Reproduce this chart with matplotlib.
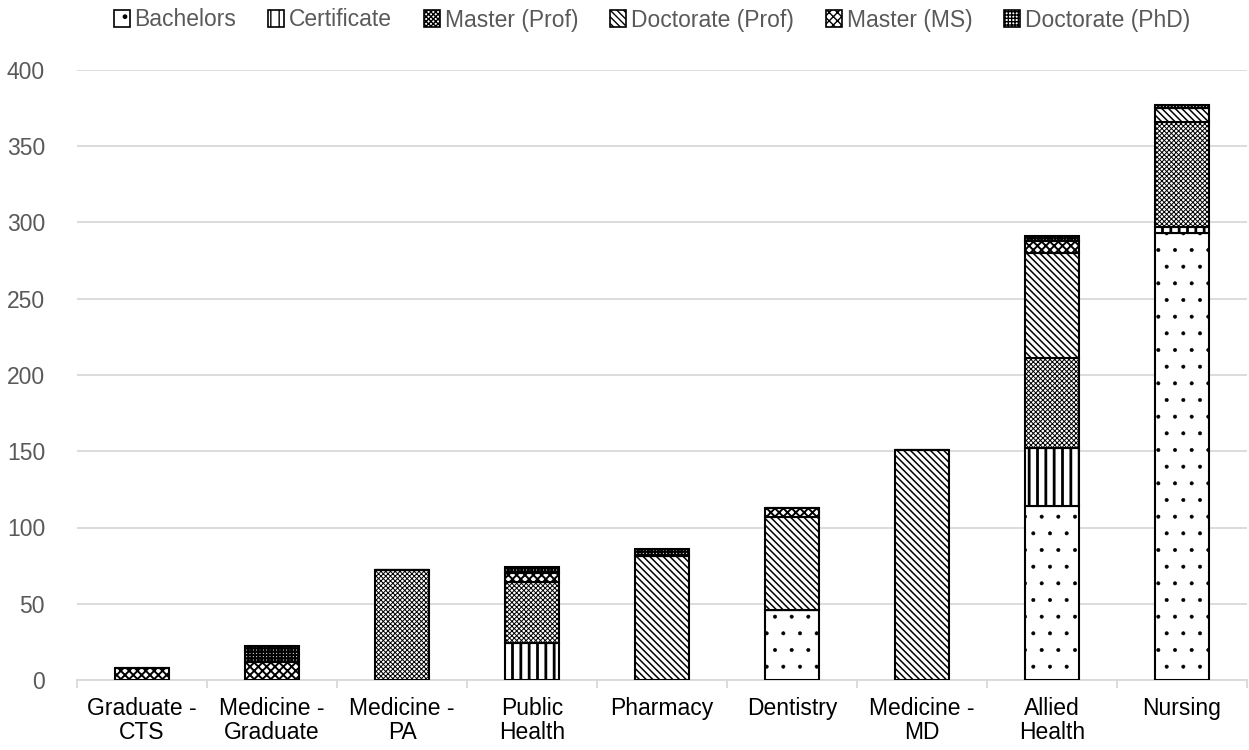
import matplotlib
matplotlib.use("Agg")
import matplotlib.pyplot as plt
import numpy as np
from matplotlib.patches import Patch

plt.rcParams['font.family'] = ['Liberation Sans', 'DejaVu Sans']

categories = ["Graduate -\nCTS", "Medicine -\nGraduate", "Medicine -\nPA", "Public\nHealth",
              "Pharmacy", "Dentistry", "Medicine -\nMD", "Allied\nHealth", "Nursing"]
series_names = ["Bachelors", "Certificate", "Master (Prof)", "Doctorate (Prof)",
                "Master (MS)", "Doctorate (PhD)"]
bachelors    = [0, 0, 0, 0, 0, 46, 0, 114, 293]
certificate  = [0, 0, 0, 24, 0, 0, 0, 38, 4]
master_prof  = [0, 0, 72, 40, 0, 0, 0, 59, 69]
doctor_prof  = [0, 0, 0, 0, 81, 61, 151, 69, 9]
master_ms    = [8, 12, 0, 6, 0, 6, 0, 8, 0]
doctor_phd   = [0, 10, 0, 4, 5, 0, 0, 3, 2]
yticks = [0, 50, 100, 150, 200, 250, 300, 350, 400]

series = [bachelors, certificate, master_prof, doctor_prof, master_ms, doctor_phd]
hatches = ['.', '||', 'xxxxxxx', '\\' * 5, 'xxxx', '+++++']
hlw = [0.4, 2.0, 0.7, 1.1, 1.4, 1.6]

fig = plt.figure(figsize=(12.49, 7.5), dpi=100)
ax = fig.add_axes([77/1249, 1-680/750, 1170/1249, 610/750])

x = np.arange(len(categories))
bottom = np.zeros(len(categories))
handles = []
for name, vals, h, lw in zip(series_names, series, hatches, hlw):
    vals = np.array(vals, dtype=float)
    with plt.rc_context({'hatch.linewidth': lw, 'hatch.color': 'black'}):
        ax.bar(x, vals, 0.41, bottom=bottom, color='white', edgecolor='black',
               linewidth=1.5, hatch=h, zorder=3)
        handles.append(Patch(facecolor='white', edgecolor='black', hatch=h, linewidth=1.2, label=name))
    bottom += vals

ax.set_xlim(-0.5, len(categories) - 0.5)
ax.set_ylim(0, 400)
ax.set_yticks(yticks)
ax.yaxis.grid(True, color='#d9d9d9', linewidth=1.3, zorder=0)
ax.set_axisbelow(True)
for s in ['top', 'right', 'left']:
    ax.spines[s].set_visible(False)
ax.spines['bottom'].set_color('#d9d9d9')
ax.spines['bottom'].set_linewidth(1.3)
ax.tick_params(axis='y', length=0, labelsize=16.5, labelcolor='#595959', pad=23)
ax.set_xticks(x)
ax.set_xticklabels(categories, linespacing=1.1)
ax.tick_params(axis='x', which='major', length=0, labelsize=16.5, labelcolor='#000000', pad=12)
ax.set_xticks(np.arange(-0.5, len(categories)), minor=True)
ax.tick_params(axis='x', which='minor', length=6, color='#d9d9d9', width=1.3)

fig.legend(handles=handles, loc='center', bbox_to_anchor=(652/1249, 1 - 20/750), ncol=6,
           frameon=False, fontsize=16.5, handlelength=0.7, handleheight=0.7,
           handletextpad=0.2, columnspacing=1.4, labelcolor='#595959')

fig.savefig("out.png", dpi=100)
